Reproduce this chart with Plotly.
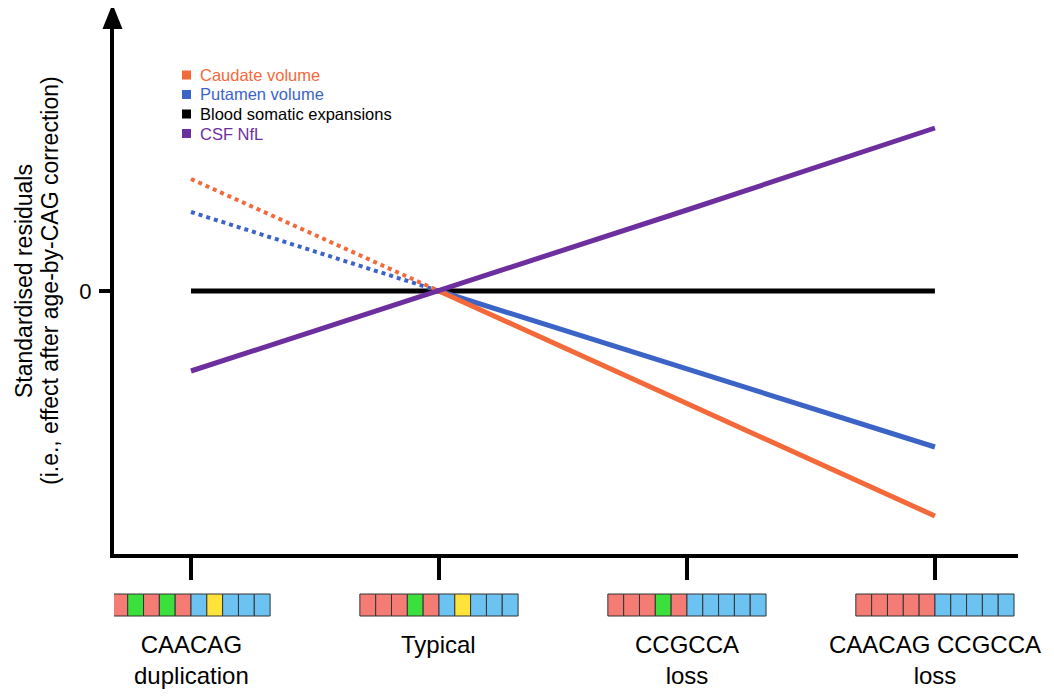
import plotly.graph_objects as go

# ---- data ----
categories = ["CAACAG<br>duplication", "Typical", "CCGCCA<br>loss", "CAACAG CCGCCA<br>loss"]
x_pos = [0, 1, 2, 3]
caudate = [1.12, 0.0, -1.12, -2.25]
putamen = [0.79, 0.0, -0.78, -1.56]
blood = [0.0, 0.0, 0.0, 0.0]
csf_nfl = [-0.80, 0.0, 0.81, 1.63]
y_tick_vals = [0]
y_tick_text = ["0"]
title_lines = ["Standardised residuals", "(i.e., effect after age-by-CAG correction)"]
# repeat-structure cells for each category (R=CAG red, G=CAA green, B=CCG blue, Y=CCA yellow)
sequences = ["RGRGRBYBBB", "RRRGRBYBBB", "RRRGRBBBBB", "RRRRRBBBBB"]

cell_colors = {"R": "#F47C74", "G": "#3CE03C", "B": "#6CC3F1", "Y": "#FFE23A"}
C_ORANGE = "#F4693A"
C_BLUE = "#3B64C6"
C_PURPLE = "#6D2F9E"
FONT = "Liberation Sans, Arial, Helvetica, sans-serif"

W, H = 1054, 696
PAGE_OFF = 8  # browser body margin
ML, MR, MT, MB = 106, 44, 12, 150
PW, PH = W - ML - MR, H - MT - MB
X_RANGE = [-0.3105, 3.335]
Y_RANGE = [-2.63, 2.71]


def px_x(s):
    """screen x -> paper x"""
    return (s - PAGE_OFF - ML) / PW


def px_y(s):
    """screen y -> paper y"""
    return (H - MB - (s - PAGE_OFF)) / PH


fig = go.Figure()

LW = 5
fig.add_trace(go.Scatter(x=x_pos, y=blood, mode="lines", line=dict(color="black", width=LW),
                         showlegend=False, hoverinfo="skip"))
# dotted extrapolations
fig.add_trace(go.Scatter(x=x_pos[:2], y=putamen[:2], mode="lines",
                         line=dict(color=C_BLUE, width=4, dash="dot"), showlegend=False))
fig.add_trace(go.Scatter(x=x_pos[:2], y=caudate[:2], mode="lines",
                         line=dict(color=C_ORANGE, width=4, dash="dot"), showlegend=False))
fig.add_trace(go.Scatter(x=x_pos[1:], y=putamen[1:], mode="lines",
                         line=dict(color=C_BLUE, width=LW), showlegend=False))
fig.add_trace(go.Scatter(x=x_pos[1:], y=caudate[1:], mode="lines",
                         line=dict(color=C_ORANGE, width=LW), showlegend=False))
fig.add_trace(go.Scatter(x=x_pos, y=csf_nfl, mode="lines",
                         line=dict(color=C_PURPLE, width=LW), showlegend=False))

legend_items = [("Caudate volume", C_ORANGE), ("Putamen volume", C_BLUE),
                ("Blood somatic expansions", "black"), ("CSF NfL", C_PURPLE)]

shapes = []
annotations = []

# arrowhead on y axis
tip_x, tip_y, base_y, half = 112.5, 4, 29, 10
shapes.append(dict(type="path", xref="paper", yref="paper",
                   path=f"M {px_x(tip_x - half)} {px_y(base_y)} L {px_x(tip_x)} {px_y(tip_y)} "
                        f"L {px_x(tip_x + half)} {px_y(base_y)} Z",
                   fillcolor="black", line=dict(width=0)))

# custom legend (square + coloured text)
leg_y0, leg_dy = 75, 19.5
for i, (name, col) in enumerate(legend_items):
    yc = leg_y0 + i * leg_dy
    shapes.append(dict(type="rect", xref="paper", yref="paper",
                       x0=px_x(182), x1=px_x(191), y0=px_y(yc + 4.5), y1=px_y(yc - 4.5),
                       fillcolor=col, line=dict(width=0)))
    annotations.append(dict(x=px_x(198), y=px_y(yc), xref="paper", yref="paper", text=name,
                            showarrow=False, xanchor="left", yanchor="middle",
                            font=dict(size=16.5, color=col, family=FONT)))

# repeat boxes under each tick
cell_w = 0.0638
y_top, y_bot = px_y(594), px_y(616)
for xc, seq in zip(x_pos, sequences):
    start = xc - cell_w * len(seq) / 2
    for i, c in enumerate(seq):
        shapes.append(dict(type="rect", xref="x", yref="paper",
                           x0=start + i * cell_w, x1=start + (i + 1) * cell_w,
                           y0=y_bot, y1=y_top, fillcolor=cell_colors[c],
                           line=dict(color="#333333", width=1)))

for xc, lab in zip(x_pos, categories):
    annotations.append(dict(x=xc, y=px_y(629), xref="x", yref="paper", text=lab,
                            showarrow=False, xanchor="center", yanchor="top",
                            font=dict(size=24, color="black", family=FONT)))

for xs, line in zip([24, 50], title_lines):
    annotations.append(dict(x=px_x(xs), y=px_y(281), xref="paper", yref="paper",
                            text=line, textangle=-90, showarrow=False,
                            xanchor="center", yanchor="middle",
                            font=dict(size=23, color="black", family=FONT)))

fig.update_layout(
    width=W, height=H,
    margin=dict(l=ML, r=MR, t=MT, b=MB),
    paper_bgcolor="white", plot_bgcolor="white",
    font=dict(family=FONT, color="black"),
    showlegend=False,
    shapes=shapes, annotations=annotations,
    xaxis=dict(range=X_RANGE, tickvals=x_pos, showticklabels=False, ticks="outside",
               ticklen=22, tickwidth=4, tickcolor="black", showline=True, linewidth=4,
               linecolor="black", showgrid=False, zeroline=False, fixedrange=True),
    yaxis=dict(range=Y_RANGE, tickvals=y_tick_vals, ticktext=y_tick_text, ticks="outside",
               ticklen=11, tickwidth=4, tickcolor="black", showline=True, linewidth=4,
               linecolor="black", showgrid=False, zeroline=False, ticklabelstandoff=3,
               tickfont=dict(size=22, family=FONT, color="black"), fixedrange=True),
)

fig.write_html("out.html")
